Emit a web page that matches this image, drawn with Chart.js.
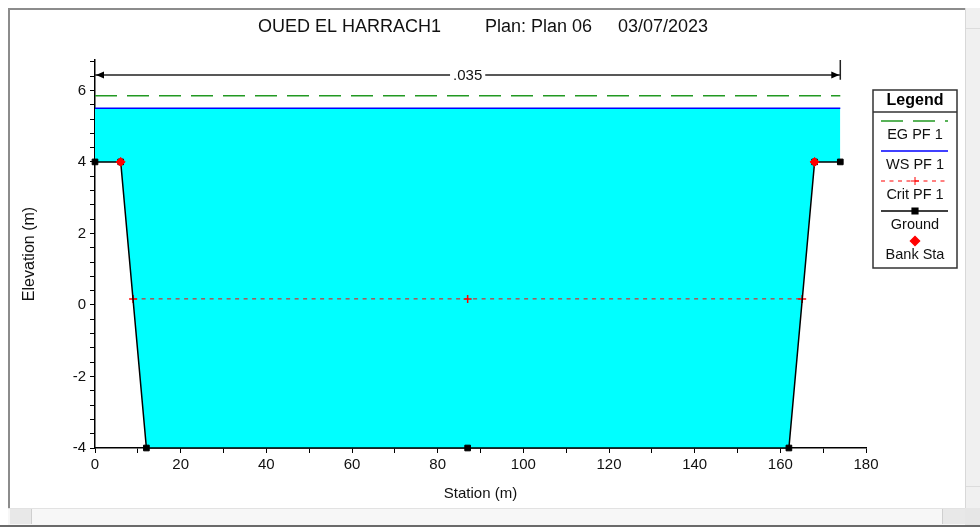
<!DOCTYPE html>
<html>
<head>
<meta charset="utf-8">
<title>OUED EL HARRACH1 - Cross Section</title>
<script src="https://cdn.jsdelivr.net/npm/chart.js@4.4.1/dist/chart.umd.min.js"></script>
<style>
body { margin: 0; background: #fff; overflow: hidden; }
#wrap { position: relative; width: 980px; height: 527px; }
#mycanvas { position: absolute; left: 0; top: 0; }
.fr { position: absolute; box-sizing: border-box; }
</style>
</head>
<body>
<div id="wrap">
  <canvas id="mycanvas" width="980" height="527"></canvas>
  <!-- window frame + scrollbars -->
  <div class="fr" style="left:8px;top:8px;width:958px;height:2px;background:#8c8c8c"></div>
  <div class="fr" style="left:8px;top:8px;width:2px;height:500px;background:#8c8c8c"></div>
  <div class="fr" style="left:965px;top:8px;width:15px;height:500px;background:#f0f0f0;border-left:1px solid #d8d8d8"></div>
  <div class="fr" style="left:966px;top:9px;width:14px;height:20px;background:#f0f0f0;border-bottom:1px solid #dcdcdc"></div>
  <div class="fr" style="left:966px;top:486px;width:14px;height:20px;background:#f0f0f0;border-top:1px solid #dcdcdc"></div>
  <div class="fr" style="left:8px;top:508px;width:958px;height:17px;background:#f7f7f7;border-top:1px solid #e2e2e2"></div>
  <div class="fr" style="left:10px;top:509px;width:22px;height:15px;background:#e8e8e8;border-right:1px solid #cfcfcf"></div>
  <div class="fr" style="left:942px;top:509px;width:23px;height:15px;background:#e8e8e8;border-left:1px solid #cfcfcf"></div>
  <div class="fr" style="left:965px;top:508px;width:15px;height:19px;background:#e6e6e6"></div>
  <div class="fr" style="left:0px;top:525px;width:980px;height:2px;background:#6a6a6a"></div>
</div>
<script>
// values
var titleParts = ['OUED EL HARRACH1', 'Plan: Plan 06', '03/07/2023'];

var groundSta = [0, 6, 12, 87, 162, 168, 174];
var groundElev = [4, 4, -4, -4, -4, 4, 4];
var bankSta = [6, 168];
var bankElev = [4, 4];
var wsSta = [0, 174];
var wsElev = [5.5, 5.5];
var egSta = [0, 174];
var egElev = [5.85, 5.85];
var critSta = [8.9, 87, 165.1];
var critElev = [0.17, 0.17, 0.17];

// manning n band
var manningN = ['.035'];
var manningSta = [0, 174];

var xTicks = [0, 10, 20, 30, 40, 50, 60, 70, 80, 90, 100, 110, 120, 130, 140, 150, 160, 170, 180];
var xLabels = [0, 20, 40, 60, 80, 100, 120, 140, 160, 180];
var yTicks = [-4, -3.6, -3.2, -2.8, -2.4, -2, -1.6, -1.2, -0.8, -0.4, 0, 0.4, 0.8, 1.2, 1.6,
              2, 2.4, 2.8, 3.2, 3.6, 4, 4.4, 4.8, 5.2, 5.6, 6, 6.4, 6.8];
var yLabels = [-4, -2, 0, 2, 4, 6];

var FONT = '"Liberation Sans", Arial, sans-serif';

function pts(xs, ys) {
    return xs.map(function(x, i) { return {x: x, y: ys[i]}; });
}

// title, n value arrow and the boxed legend
var rasPlugin = {
    id: 'ras',
    afterDraw: function(chart) {
        var ctx = chart.ctx;
        var xs = chart.scales.x, ys = chart.scales.y;
        var area = chart.chartArea;
        ctx.save();

        // title
        ctx.fillStyle = '#111';
        ctx.font = '18px ' + FONT;
        ctx.textBaseline = 'middle';
        ctx.textAlign = 'left';
        var tx = [258, 485, 618];
        for (var i = 0; i < titleParts.length; i++) {
            ctx.fillText(titleParts[i], tx[i], 27);
        }

        // n value arrow
        var x0 = xs.getPixelForValue(manningSta[0]);
        var x1 = xs.getPixelForValue(manningSta[1]);
        var ya = ys.getPixelForValue(6.43);
        var mid = (x0 + x1) / 2;
        ctx.font = '15px ' + FONT;
        ctx.textAlign = 'center';
        var tw = ctx.measureText(manningN[0]).width;
        ctx.strokeStyle = '#222';
        ctx.lineWidth = 1.5;
        ctx.beginPath();
        ctx.moveTo(x0, ya); ctx.lineTo(mid - tw / 2 - 3, ya);
        ctx.moveTo(mid + tw / 2 + 3, ya); ctx.lineTo(x1, ya);
        ctx.moveTo(x1, area.top); ctx.lineTo(x1, ys.getPixelForValue(6.3));
        ctx.stroke();
        ctx.fillStyle = '#000';
        ctx.beginPath();
        ctx.moveTo(x0 + 1, ya); ctx.lineTo(x0 + 9, ya - 3.5); ctx.lineTo(x0 + 9, ya + 3.5); ctx.closePath();
        ctx.moveTo(x1 - 1, ya); ctx.lineTo(x1 - 9, ya - 3.5); ctx.lineTo(x1 - 9, ya + 3.5); ctx.closePath();
        ctx.fill();
        ctx.fillStyle = '#111';
        ctx.fillText(manningN[0], mid, ya + 1);

        // legend box
        var L = 873, T = 90, R = 957, B = 268, H = 112;
        ctx.fillStyle = '#fff';
        ctx.fillRect(L, T, R - L, B - T);
        ctx.strokeStyle = '#333';
        ctx.lineWidth = 1.5;
        ctx.strokeRect(L, T, R - L, B - T);
        ctx.beginPath(); ctx.moveTo(L, H); ctx.lineTo(R, H); ctx.stroke();
        ctx.fillStyle = '#000';
        ctx.font = 'bold 16px ' + FONT;
        ctx.fillText('Legend', (L + R) / 2, 101);

        var cx = (L + R) / 2;
        chart.data.datasets.forEach(function(ds, k) {
            var sy = 121 + 30 * k;
            ctx.save();
            if (ds.showLine !== false) {
                ctx.strokeStyle = ds.borderColor;
                ctx.lineWidth = ds.borderWidth;
                ctx.setLineDash(ds.borderDash || []);
                ctx.beginPath(); ctx.moveTo(L + 8, sy); ctx.lineTo(R - 9, sy); ctx.stroke();
                ctx.setLineDash([]);
            }
            if (ds.pointRadius > 0) {
                ctx.fillStyle = ds.pointBackgroundColor;
                ctx.strokeStyle = ds.pointBorderColor;
                Chart.helpers.drawPoint(ctx, {
                    pointStyle: ds.pointStyle, radius: ds.pointRadius,
                    borderWidth: ds.pointBorderWidth, rotation: 0
                }, cx, sy);
            }
            ctx.restore();
            ctx.fillStyle = '#111';
            ctx.font = '14.5px ' + FONT;
            ctx.textAlign = 'center';
            ctx.textBaseline = 'middle';
            ctx.fillText(ds.label, cx, sy + 14);
        });

        ctx.restore();
    }
};

var ctx = document.getElementById('mycanvas');

var xsChart = new Chart(ctx, {
    type: 'scatter',
    data: {
        datasets: [{
            label: 'EG PF 1',
            data: pts(egSta, egElev),
            showLine: true,
            borderColor: '#229922',
            borderWidth: 1.5,
            borderDash: [22, 10],
            pointRadius: 0,
            order: 4
        }, {
            label: 'WS PF 1',
            data: pts(wsSta, wsElev),
            showLine: true,
            borderColor: '#0000ff',
            borderWidth: 1.5,
            backgroundColor: '#00ffff',
            fill: 3,
            pointRadius: 0,
            order: 3
        }, {
            label: 'Crit PF 1',
            data: pts(critSta, critElev),
            showLine: true,
            borderColor: '#ff0000',
            borderWidth: 1,
            borderDash: [4, 4.5],
            pointStyle: 'cross',
            pointRadius: 4,
            pointBorderWidth: 1.5,
            pointBorderColor: '#ff0000',
            pointBackgroundColor: '#ff0000',
            order: 2
        }, {
            label: 'Ground',
            data: pts(groundSta, groundElev),
            showLine: true,
            borderColor: '#000',
            borderWidth: 1.5,
            pointStyle: 'rect',
            pointRadius: 4,
            pointBorderWidth: 1,
            pointBorderColor: '#000',
            pointBackgroundColor: '#000',
            clip: false,
            order: 1
        }, {
            label: 'Bank Sta',
            data: pts(bankSta, bankElev),
            showLine: false,
            pointStyle: 'rectRot',
            pointRadius: 4.5,
            pointBorderWidth: 1,
            pointBorderColor: '#ff0000',
            pointBackgroundColor: '#ff0000',
            clip: false,
            order: 0
        }]
    },
    options: {
        responsive: false,
        animation: false,
        devicePixelRatio: 1,
        events: [],
        layout: { padding: { left: 16, right: 114, top: 60, bottom: 20 } },
        plugins: {
            legend: { display: false },
            tooltip: { enabled: false },
            filler: { drawTime: 'beforeDatasetsDraw' }
        },
        scales: {
            x: {
                type: 'linear',
                min: 0,
                max: 180,
                afterBuildTicks: function(s) { s.ticks = xTicks.map(function(v) { return {value: v}; }); },
                afterFit: function(s) { s.height = 59; },
                ticks: {
                    autoSkip: false, maxRotation: 0, padding: 3, color: '#111',
                    font: { family: FONT, size: 15 },
                    callback: function(v) { return xLabels.indexOf(v) >= 0 ? String(v) : ''; }
                },
                grid: { drawOnChartArea: false, drawTicks: true, tickLength: 5, tickColor: '#000' },
                border: { color: '#000', width: 1.5 },
                title: { display: true, text: 'Station (m)', color: '#111', font: { family: FONT, size: 15 }, padding: { top: 0, bottom: 4 } }
            },
            y: {
                type: 'linear',
                min: -4,
                max: 6.85,
                afterBuildTicks: function(s) { s.ticks = yTicks.map(function(v) { return {value: v}; }); },
                afterFit: function(s) { s.width = 79; },
                ticks: {
                    autoSkip: false, padding: 4, color: '#111',
                    font: { family: FONT, size: 15 },
                    callback: function(v) {
                        return yLabels.some(function(l) { return Math.abs(l - v) < 1e-6; }) ? String(Math.round(v)) : '';
                    }
                },
                grid: { drawOnChartArea: false, drawTicks: true, tickLength: 5, tickColor: '#000' },
                border: { color: '#000', width: 1.5 },
                title: { display: true, text: 'Elevation (m)', color: '#111', font: { family: FONT, size: 16 }, padding: { top: 4, bottom: 0 } }
            }
        }
    },
    plugins: [rasPlugin]
});
</script>
</body>
</html>
